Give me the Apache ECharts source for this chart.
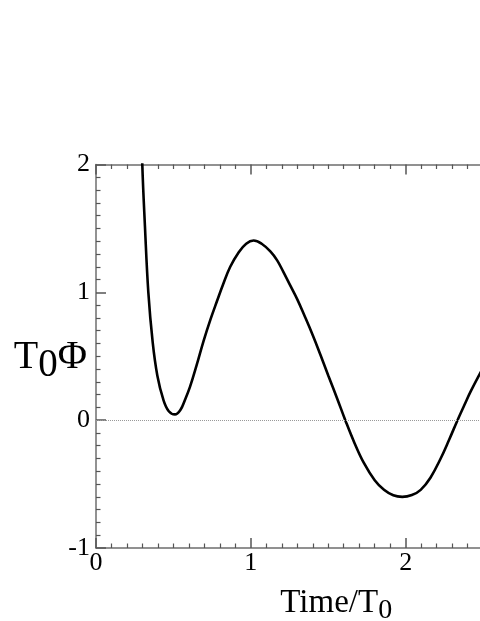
<!DOCTYPE html>
<html>
<head>
<meta charset="utf-8">
<style>
  html, body { margin: 0; padding: 0; background: #fff; }
  #chart { width: 480px; height: 621px; }
</style>
<script src="https://cdn.jsdelivr.net/npm/echarts@6/dist/echarts.min.js"></script>
</head>
<body>
<div id="chart"></div>
<script>
// time in units of T0, and T0*Phi
const times = [
  0.29, 0.299, 0.316, 0.338, 0.366, 0.396, 0.435, 0.47, 0.51, 0.545,
  0.575, 0.607, 0.65, 0.695, 0.74, 0.781, 0.82, 0.867, 0.92, 0.97,
  1.018, 1.07, 1.126, 1.17, 1.21, 1.256, 1.3, 1.342, 1.4, 1.45,
  1.5, 1.558, 1.61, 1.67, 1.73, 1.8, 1.86, 1.92, 1.978, 2.04,
  2.097, 2.16, 2.226, 2.28, 2.335, 2.38, 2.42, 2.5
]
const phi = [
  2.5, 2.0, 1.52, 1.0, 0.61, 0.35, 0.16, 0.07, 0.045, 0.08,
  0.16, 0.26, 0.43, 0.62, 0.79, 0.93, 1.06, 1.2, 1.31, 1.38,
  1.405, 1.38, 1.32, 1.25, 1.16, 1.05, 0.945, 0.83, 0.665, 0.51,
  0.35, 0.168, 0.0, -0.18, -0.335, -0.47, -0.545, -0.588, -0.6, -0.586,
  -0.545, -0.45, -0.3, -0.155, 0.0, 0.12, 0.225, 0.41
]
const xTicks = [0, 3]
const yTicks = [-1, 2]

const font = 'Liberation Serif'
const axisColor = '#6e6e6e'

const frameAxis = ( extra ) => Object.assign( {
  type : 'value',
  interval : 1,
  axisLine : { show : true, onZero : false, lineStyle : { color : axisColor, width : 1.5 }},
  axisTick : { show : true, inside : true, length : 10, lineStyle : { color : '#555', width : 1.5 }},
  minorTick : { show : true, splitNumber : 10, length : 4.5, lineStyle : { color : '#555', width : 1.2 }},
  splitLine : { show : false },
  minorSplitLine : { show : false },
  axisLabel : { show : false }
}, extra )

const chart = echarts.init( document.getElementById( 'chart' ), null, { renderer : 'canvas' } )

chart.setOption( {
  animation : false,
  backgroundColor : '#fff',
  grid : {
    left : 96,
    top : 164.5,
    right : -80.5,
    bottom : 73,
    containLabel : false,
    outerBoundsMode : 'none'
  },
  xAxis : [
    frameAxis( {
      position : 'bottom',
      min : xTicks[0],
      max : xTicks[1],
      axisLabel : {
        show : true,
        margin : 2,
        color : '#000',
        fontFamily : font,
        fontSize : 26
      },
      name : '{m|Time/T}{s|0}',
      nameLocation : 'middle',
      nameGap : 26,
      nameTextStyle : {
        padding : [0, 0, 0, 16],
        rich : {
          m : { fontFamily : font, fontSize : 33, lineHeight : 33, color : '#000', verticalAlign : 'top' },
          s : { fontFamily : font, fontSize : 28, lineHeight : 28, color : '#000', padding : [16, 0, 0, 0] }
        }
      }
    } ),
    frameAxis( { position : 'top', min : xTicks[0], max : xTicks[1] } )
  ],
  yAxis : [
    frameAxis( {
      position : 'left',
      min : yTicks[0],
      max : yTicks[1],
      axisLabel : {
        show : true,
        margin : 6,
        color : '#000',
        fontFamily : font,
        fontSize : 26
      },
      name : '{m|T}{s|0}{m|Φ}',
      nameLocation : 'middle',
      nameRotate : 0,
      nameGap : 9,
      nameMoveOverlap : false,
      nameTextStyle : {
        padding : [2, 0, 0, 0],
        rich : {
          m : { fontFamily : font, fontSize : 40, lineHeight : 40, color : '#000', verticalAlign : 'top' },
          s : { fontFamily : font, fontSize : 39, lineHeight : 39, color : '#000', padding : [17, 0, 0, 0] }
        }
      }
    } ),
    frameAxis( { position : 'right', min : yTicks[0], max : yTicks[1] } )
  ],
  series : [
    {
      type : 'line',
      data : times.map( ( t, i ) => [t, phi[i]] ),
      smooth : 0.4,
      showSymbol : false,
      clip : true,
      lineStyle : { color : '#000', width : 2.6 },
      markLine : {
        silent : true,
        symbol : 'none',
        label : { show : false },
        lineStyle : { color : '#999', type : 'dotted', width : 1 },
        data : [{ yAxis : 0 }]
      }
    }
  ]
} )
</script>
</body>
</html>
